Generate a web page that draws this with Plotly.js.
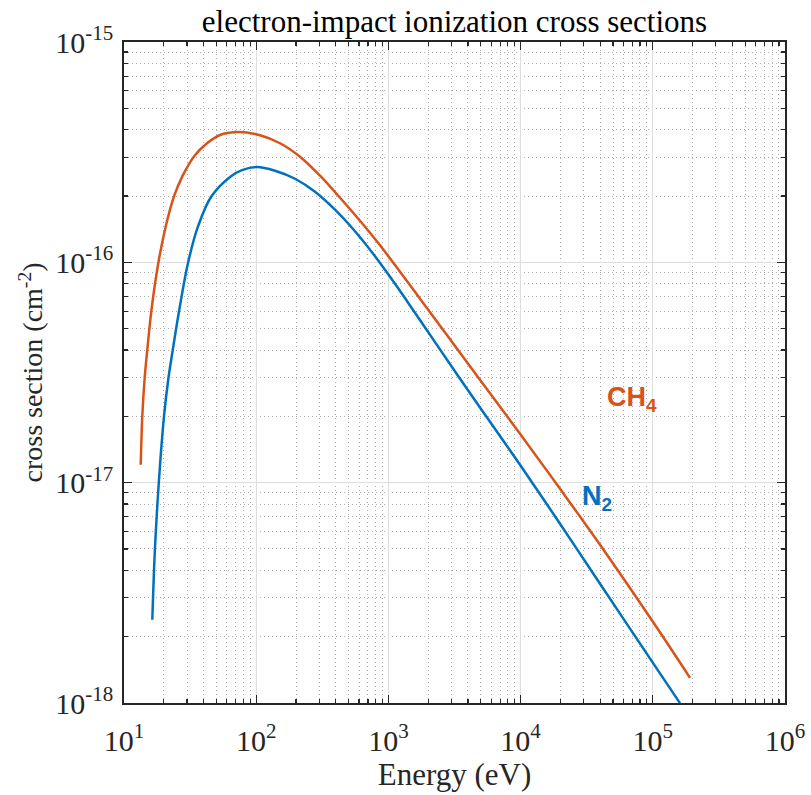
<!DOCTYPE html>
<html>
<head>
<meta charset="utf-8">
<script src="https://cdn.plot.ly/plotly-3.0.1.min.js"></script>
<style>html,body{margin:0;padding:0;background:#fff;}#chart{width:811px;height:795px;}</style>
</head>
<body>
<div id="chart"></div>
<script>
// CH4 electron-impact ionization cross section (energy in eV, sigma in cm^-2)
const ch4Energy = [13.38, 13.75, 14.34, 15.00, 16.14, 18.18, 20.68, 23.89, 27.61, 33.84, 42.67, 53.89, 74.13, 106.8, 151.4, 214.5, 303.9, 430.5, 609.9, 864.2, 1224, 1734, 2457, 3480, 5869, 9897, 19870, 39880, 102600, 191200];
const ch4Sigma  = [1.205e-17, 1.998e-17, 3.0e-17, 4.01e-17, 6.09e-17, 9.93e-17, 1.455e-16, 1.991e-16, 2.455e-16, 3.025e-16, 3.479e-16, 3.795e-16, 3.904e-16, 3.775e-16, 3.472e-16, 3.015e-16, 2.472e-16, 1.964e-16, 1.544e-16, 1.195e-16, 9.06e-17, 6.84e-17, 5.157e-17, 3.888e-17, 2.545e-17, 1.667e-17, 9.38e-18, 5.226e-18, 2.288e-18, 1.301e-18];
// N2 electron-impact ionization cross section (energy in eV, sigma in cm^-2)
const n2Energy = [16.37, 16.66, 17.13, 18.33, 20.07, 21.71, 23.39, 26.20, 30.49, 36.29, 45.76, 64.14, 78.1, 101.4, 138.8, 196.6, 278.5, 394.6, 559.0, 791.8, 1122, 1589, 2252, 3480, 5869, 9897, 19870, 39880, 102600, 160600];
const n2Sigma  = [2.385e-18, 3.265e-18, 4.958e-18, 9.99e-18, 1.998e-17, 3.0e-17, 4.01e-17, 6.09e-17, 9.93e-17, 1.455e-16, 1.991e-16, 2.455e-16, 2.621e-16, 2.707e-16, 2.605e-16, 2.395e-16, 2.091e-16, 1.733e-16, 1.384e-16, 1.066e-16, 7.995e-17, 5.903e-17, 4.342e-17, 2.961e-17, 1.889e-17, 1.206e-17, 6.51e-18, 3.475e-18, 1.49e-18, 9.99e-19];

const xTickVals = [1e1, 1e2, 1e3, 1e4, 1e5, 1e6];
const xTickText = ['10<sup>1</sup>', '10<sup>2</sup>', '10<sup>3</sup>', '10<sup>4</sup>', '10<sup>5</sup>', '10<sup>6</sup>'];
const yTickVals = [1e-18, 1e-17, 1e-16, 1e-15];
const yTickText = ['10<sup>-18</sup>', '10<sup>-17</sup>', '10<sup>-16</sup>', '10<sup>-15</sup>'];

const seriesLabels = ['CH<sub>4</sub>', 'N<sub>2</sub>'];
const ch4Color = '#D95319';
const n2Color = '#0072BD';

function minorVals(decades) {
  const out = [];
  for (const d of decades) for (let k = 2; k <= 9; k++) out.push(k * d);
  return out;
}
const xMinor = minorVals([1e1, 1e2, 1e3, 1e4, 1e5]);
const yMinor = minorVals([1e-18, 1e-17, 1e-16]);

const serif = 'Liberation Serif, Times New Roman, serif';
const sans = 'Liberation Sans, Arial, sans-serif';
const axisCommon = {
  type: 'log',
  tickmode: 'array',
  ticks: 'inside',
  ticklen: 8,
  tickwidth: 1.3,
  tickcolor: '#262626',
  showline: true,
  linecolor: '#262626',
  linewidth: 1.8,
  mirror: 'ticks',
  showgrid: true,
  gridcolor: '#dedede',
  gridwidth: 1.2,
  zeroline: false,
  tickfont: {family: serif, size: 30, color: '#262626'},
  minor: {
    tickmode: 'array',
    ticks: 'inside',
    ticklen: 4,
    tickwidth: 1.2,
    tickcolor: '#262626',
    showgrid: true,
    gridcolor: '#adadad',
    griddash: '1px,3px',
    gridwidth: 1
  }
};

const traces = [
  {x: ch4Energy, y: ch4Sigma, mode: 'lines', name: 'CH4', line: {color: ch4Color, width: 2.5, shape: 'spline', smoothing: 1}, hoverinfo: 'skip'},
  {x: n2Energy, y: n2Sigma, mode: 'lines', name: 'N2', line: {color: n2Color, width: 2.5, shape: 'spline', smoothing: 1}, hoverinfo: 'skip'}
];

const layout = {
  width: 811, height: 795,
  margin: {l: 124, r: 26, t: 42, b: 92},
  paper_bgcolor: '#fff', plot_bgcolor: '#fff',
  showlegend: false,
  title: {text: 'electron-impact ionization cross sections', font: {family: serif, size: 31, color: '#000'}, x: 0.5, xref: 'paper', xanchor: 'center', y: 0.974, yref: 'container', yanchor: 'middle'},
  xaxis: Object.assign({}, axisCommon, {
    range: [1, 6],
    tickvals: xTickVals, ticktext: xTickText,
    ticklabelstandoff: 10,
    minor: Object.assign({}, axisCommon.minor, {tickvals: xMinor}),
    title: {text: 'Energy (eV)', font: {family: serif, size: 31, color: '#262626'}, standoff: 6}
  }),
  yaxis: Object.assign({}, axisCommon, {
    range: [-18, -15],
    tickvals: yTickVals, ticktext: yTickText,
    ticklabelstandoff: 3,
    minor: Object.assign({}, axisCommon.minor, {tickvals: yMinor}),
    title: {text: 'cross section (cm<sup>-2</sup>)', font: {family: serif, size: 28, color: '#262626'}, standoff: 4}
  }),
  annotations: [
    {x: 4.845, y: -16.62, xref: 'x', yref: 'y', text: seriesLabels[0], showarrow: false, xanchor: 'center', yanchor: 'middle', font: {family: sans, size: 27, color: ch4Color, weight: 'bold'}},
    {x: 4.58, y: -17.07, xref: 'x', yref: 'y', text: seriesLabels[1], showarrow: false, xanchor: 'center', yanchor: 'middle', font: {family: sans, size: 27, color: n2Color, weight: 'bold'}}
  ]
};

Plotly.newPlot('chart', traces, layout, {staticPlot: true, displayModeBar: false});
</script>
</body>
</html>
